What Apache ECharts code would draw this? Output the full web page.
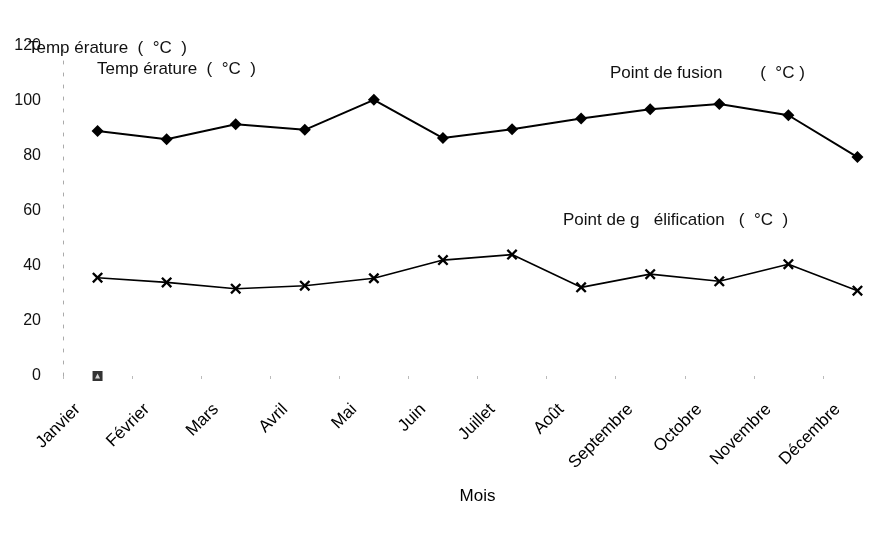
<!DOCTYPE html>
<html>
<head>
<meta charset="utf-8">
<script src="https://cdn.jsdelivr.net/npm/echarts@6/dist/echarts.min.js"></script>
<style>
  html, body { margin: 0; padding: 0; background: #fff; }
  #chart { width: 879px; height: 533px; }
</style>
</head>
<body>
<div id="chart"></div>
<script>
// Months of the year
const mois = ['Janvier', 'Février', 'Mars', 'Avril', 'Mai', 'Juin', 'Juillet', 'Août', 'Septembre', 'Octobre', 'Novembre', 'Décembre'];

// Melting point per month (°C)
const pointFusion = [89, 86, 91.4, 89.4, 100.3, 86.4, 89.6, 93.5, 96.9, 98.8, 94.7, 79.5];

// Gelling point per month (°C)
const pointGelification = [35.7, 34, 31.7, 32.8, 35.5, 42.1, 44.1, 32.2, 37, 34.4, 40.6, 31];

// Reference marker at the origin
const repere = [0, null, null, null, null, null, null, null, null, null, null, null];

// Value axis ticks
const yTicks = { min: 0, max: 120, interval: 20 };

const FONT = 'Liberation Sans, Arial, sans-serif';

// Cross-shaped symbol for the gelling series
const crossPath = 'path://M1.5,0 L5,3.5 L8.5,0 L10,1.5 L6.5,5 L10,8.5 L8.5,10 L5,6.5 L1.5,10 L0,8.5 L3.5,5 L0,1.5 Z';

const chart = echarts.init(document.getElementById('chart'), null, { renderer: 'canvas' });

chart.setOption({
  animation: false,
  backgroundColor: '#ffffff',
  textStyle: { fontFamily: FONT, color: '#000' },
  grid: { left: 63, top: 45.6, width: 829, height: 330.4, outerBoundsMode: 'none', containLabel: false },
  xAxis: {
    type: 'category',
    data: mois,
    boundaryGap: true,
    axisLine: { show: false },
    axisTick: { show: true, length: 3, lineStyle: { color: '#bbbbbb', width: 1 } },
    axisLabel: {
      interval: 0,
      rotate: 45,
      margin: 11,
      padding: [0, 28, 0, 0],
      fontSize: 17,
      color: '#000',
      fontFamily: FONT
    },
    name: 'Mois',
    nameLocation: 'middle',
    nameGap: 112,
    nameTextStyle: { fontSize: 17, color: '#000', fontFamily: FONT },
    splitLine: { show: false }
  },
  yAxis: {
    type: 'value',
    min: yTicks.min,
    max: yTicks.max,
    interval: yTicks.interval,
    axisLine: { show: true, lineStyle: { color: '#aaaaaa', width: 1, type: [3, 9] } },
    axisTick: { show: false },
    axisLabel: { fontSize: 16, color: '#111', margin: 22, fontFamily: FONT },
    splitLine: { show: false }
  },
  graphic: [
    { type: 'text', left: 28, top: 40, style: { text: 'Temp érature  (  °C  )', font: '17px ' + FONT, fill: '#111' } },
    { type: 'text', left: 97, top: 61, style: { text: 'Temp érature  (  °C  )', font: '17px ' + FONT, fill: '#111' } },
    { type: 'text', left: 610, top: 65, style: { text: 'Point de fusion        (  °C )', font: '17px ' + FONT, fill: '#111' } },
    { type: 'text', left: 563, top: 212, style: { text: 'Point de g   élification   (  °C  )', font: '17px ' + FONT, fill: '#111' } }
  ],
  series: [
    {
      name: 'Point de fusion',
      type: 'line',
      data: pointFusion,
      symbol: 'diamond',
      symbolSize: 12,
      lineStyle: { color: '#000', width: 2 },
      itemStyle: { color: '#000' }
    },
    {
      name: 'Point de gélification',
      type: 'line',
      data: pointGelification,
      symbol: crossPath,
      symbolSize: 11,
      lineStyle: { color: '#000', width: 1.6 },
      itemStyle: { color: '#000' }
    },
    {
      name: 'Repère',
      type: 'scatter',
      data: repere,
      symbol: 'rect',
      symbolSize: 10,
      itemStyle: { color: '#000' },
      z: 3
    },
    {
      name: 'Repère intérieur',
      type: 'scatter',
      data: repere,
      symbol: 'triangle',
      symbolSize: 5,
      itemStyle: { color: '#fff' },
      z: 4
    }
  ]
});
</script>
</body>
</html>
